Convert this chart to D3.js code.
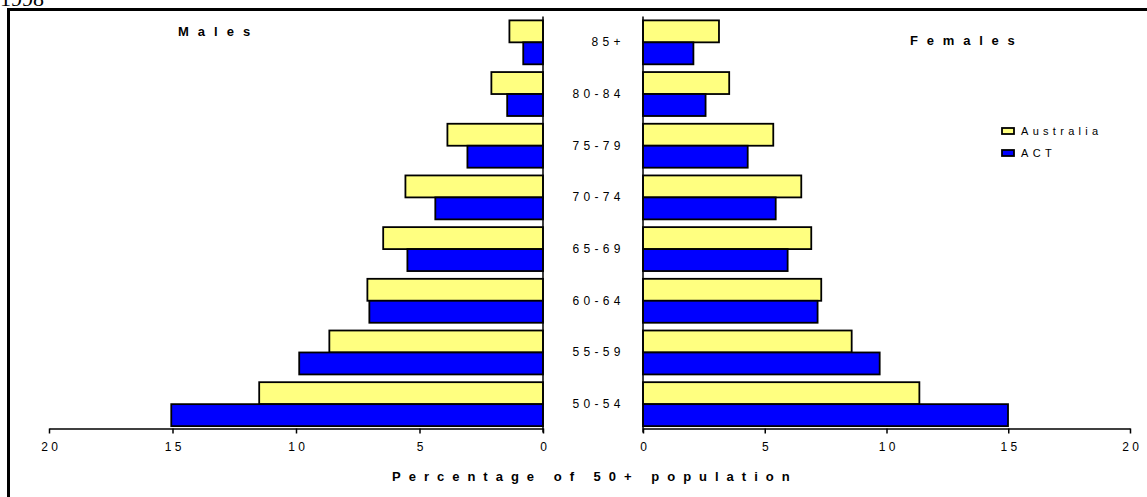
<!DOCTYPE html>
<html><head><meta charset="utf-8">
<script src="https://cdn.jsdelivr.net/npm/d3@7"></script>
<style>
body{margin:0;background:#fff;}
svg{display:block;}
text{font-family:"Liberation Sans",Arial,sans-serif;}
</style></head>
<body>
<svg id="c" width="1147" height="497"></svg>
<script>
const ageGroups = ["85+","80-84","75-79","70-74","65-69","60-64","55-59","50-54"];
const ageLabels = ["8 5 +","8 0 - 8 4","7 5 - 7 9","7 0 - 7 4","6 5 - 6 9","6 0 - 6 4","5 5 - 5 9","5 0 - 5 4"];
const maleAustralia = [1.36, 2.09, 3.87, 5.57, 6.47, 7.11, 8.65, 11.49];
const maleACT       = [0.80, 1.45, 3.06, 4.36, 5.49, 7.03, 9.87, 15.05];
const femaleAustralia = [3.12, 3.54, 5.35, 6.50, 6.91, 7.32, 8.57, 11.35];
const femaleACT       = [2.07, 2.57, 4.30, 5.45, 5.94, 7.17, 9.72, 14.99];
const seriesNames = ["Australia","ACT"];
const seriesColors = ["#ffff80","#0000ff"];
const xTicks = [0,5,10,15,20];

const svg = d3.select("#c");

// title (cut off at top, as in the reference)
svg.append("text").attr("x",0).attr("y",6)
  .style("font-family","'Liberation Serif',serif").style("font-size","22px").text("1998");

// border
svg.append("path").attr("d","M8.5,1000 L8.5,9.5 L1200,9.5")
  .attr("fill","none").attr("stroke","#000").attr("stroke-width",3);

const yTop = 16.5, yBot = 430;
const y = d3.scaleBand().domain(ageGroups).range([yTop,yBot]).paddingInner(0.15).paddingOuter(0.075);
const ySub = d3.scaleBand().domain(seriesNames).range([0,y.bandwidth()]);

const xL = d3.scaleLinear().domain([0,20]).range([543,49]);
const xR = d3.scaleLinear().domain([0,20]).range([643,1130]);
const axisY = 428.5;

function drawSide(scale, aus, act, left){
  const g = svg.append("g");
  [aus, act].forEach((vals,si)=>{
    g.selectAll(null).data(ageGroups).enter().append("rect")
      .attr("x", (d,i)=> left ? scale(vals[i]) : scale(0))
      .attr("y", d=> y(d)+ySub(seriesNames[si]))
      .attr("width",(d,i)=> Math.abs(scale(vals[i])-scale(0)))
      .attr("height", ySub.bandwidth())
      .attr("fill", seriesColors[si]).attr("stroke","#000").attr("stroke-width",1.8);
  });
  svg.append("line").attr("x1",scale(0)).attr("x2",scale(0)).attr("y1",yTop).attr("y2",axisY+4)
    .attr("stroke","#000").attr("stroke-width",1.5);
  const ax = svg.append("g").attr("transform",`translate(0,${axisY})`)
    .call(d3.axisBottom(scale).tickValues(xTicks).tickSize(5).tickSizeOuter(0).tickPadding(9)
      .tickFormat(d=>String(d).split("").join(" ")));
  ax.select(".domain").attr("stroke-width",1.5);
  ax.selectAll(".tick line").attr("stroke-width",1.5);
  ax.selectAll("text").style("font-family","'Liberation Sans',Arial,sans-serif").style("font-size","12px").attr("fill","#000");
}
drawSide(xL, maleAustralia, maleACT, true);
drawSide(xR, femaleAustralia, femaleACT, false);

// category labels
svg.selectAll(".cat").data(ageGroups).enter().append("text")
  .attr("x",621).attr("y",d=>y(d)+y.bandwidth()/2+4)
  .attr("text-anchor","end").style("font-size","12px").style("letter-spacing","0.5px")
  .text((d,i)=>ageLabels[i]);

// panel titles
svg.append("text").attr("x",178).attr("y",36).style("font-size","13px").style("font-weight","bold")
  .style("letter-spacing","9px").text("Males");
svg.append("text").attr("x",910).attr("y",45).style("font-size","13px").style("font-weight","bold")
  .style("letter-spacing","8.8px").text("Females");

// axis title
svg.append("text").attr("x",392).attr("y",481)
  .style("font-size","13px").style("font-weight","bold").style("letter-spacing","8px")
  .text("Percentage of 50+ population");

// legend
const lg = svg.append("g").attr("transform","translate(1002,126)");
seriesNames.forEach((s,i)=>{
  lg.append("rect").attr("x",0).attr("y",i*22+2).attr("width",12).attr("height",6)
    .attr("fill",seriesColors[i]).attr("stroke","#000").attr("stroke-width",1.8);
  lg.append("text").attr("x",19).attr("y",i*22+9).style("font-size","11px")
    .style("letter-spacing","4.3px").text(s);
});
</script>
</body></html>
